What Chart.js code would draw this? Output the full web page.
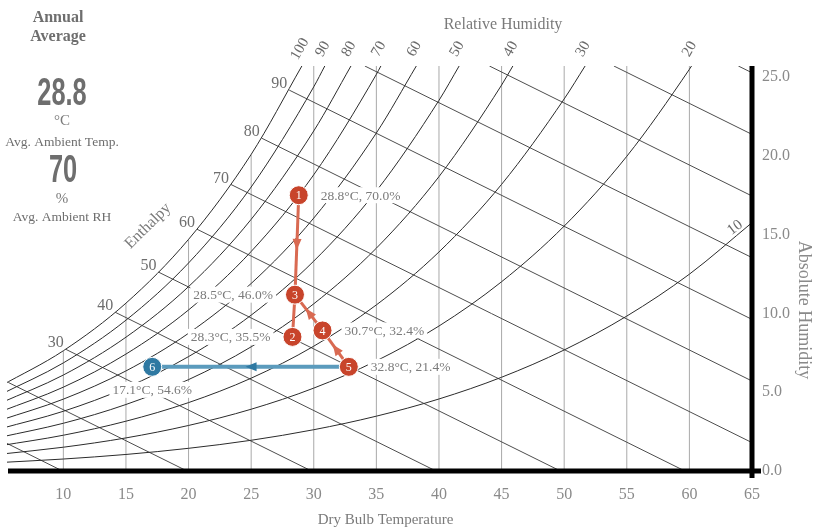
<!DOCTYPE html>
<html>
<head>
<meta charset="utf-8">
<title>Psychrometric chart</title>
<script src="https://cdn.jsdelivr.net/npm/chart.js@4.4.1/dist/chart.umd.min.js"></script>
<style>
  html, body { margin: 0; padding: 0; background: #fff; }
  canvas { display: block; }
</style>
</head>
<body>
<canvas id="psychro" width="815" height="530"></canvas>
<script>
// relative humidity curves: [dry bulb °C, absolute humidity g/kg]
const rh100 = [[5, 5.40], [10, 7.63], [15, 10.65], [20, 14.70], [25, 20.09], [29.05, 25.7]];
const rh90 = [[5, 4.86], [10, 6.86], [15, 9.57], [20, 13.20], [25, 18.02], [30, 24.38], [30.88, 25.7]];
const rh80 = [[5, 4.32], [10, 6.09], [15, 8.49], [20, 11.70], [25, 15.97], [30, 21.58], [32.97, 25.7]];
const rh70 = [[5, 3.77], [10, 5.32], [15, 7.42], [20, 10.22], [25, 13.93], [30, 18.80], [35, 25.17], [35.36, 25.7]];
const rh60 = [[5, 3.23], [10, 4.56], [15, 6.35], [20, 8.74], [25, 11.90], [30, 16.05], [35, 21.45], [38.19, 25.7]];
const rh50 = [[5, 2.69], [10, 3.79], [15, 5.28], [20, 7.26], [25, 9.89], [30, 13.32], [35, 17.77], [40, 23.52], [41.61, 25.7]];
const rh40 = [[5, 2.15], [10, 3.03], [15, 4.22], [20, 5.80], [25, 7.88], [30, 10.61], [35, 14.14], [40, 18.68], [45, 24.49], [45.90, 25.7]];
const rh30 = [[5, 1.61], [10, 2.27], [15, 3.16], [20, 4.34], [25, 5.89], [30, 7.92], [35, 10.54], [40, 13.90], [45, 18.19], [50, 23.61], [51.67, 25.7]];
const rh20 = [[5, 1.07], [10, 1.51], [15, 2.10], [20, 2.89], [25, 3.92], [30, 5.26], [35, 6.99], [40, 9.20], [45, 12.01], [50, 15.54], [55, 19.97], [60, 25.49], [60.17, 25.7]];
const rh10 = [[5, 0.54], [10, 0.76], [15, 1.05], [20, 1.44], [25, 1.95], [30, 2.62], [35, 3.48], [40, 4.57], [45, 5.95], [50, 7.68], [55, 9.83], [60, 12.49], [65, 15.76]];
const rhLevels = [100, 90, 80, 70, 60, 50, 40, 30, 20, 10];
const rhCurves = [rh100, rh90, rh80, rh70, rh60, rh50, rh40, rh30, rh20, rh10];

// enthalpy lines (kJ/kg), each from its start to its end point
const enthalpyLevels = [10, 20, 30, 40, 50, 60, 70, 80, 90, 100, 110, 120, 130];
const enthalpyStart = [[5.5, 1.75], [5.6, 5.62], [10.2, 7.72], [14.15, 10.07], [17.6, 12.62], [20.68, 15.34],
  [23.39, 18.18], [25.84, 21.12], [28.04, 24.17], [34.08, 25.7], [44.03, 25.7], [53.97, 25.7], [63.91, 25.7]];
const enthalpyEnd = [[9.94, 0], [19.88, 0], [29.82, 0], [39.76, 0], [49.70, 0], [59.64, 0],
  [65, 1.80], [65, 5.71], [65, 9.62], [65, 13.54], [65, 17.45], [65, 21.36], [65, 25.27]];
const labelledEnthalpy = [30, 40, 50, 60, 70, 80, 90];

const tempTicks = [10, 15, 20, 25, 30, 35, 40, 45, 50, 55, 60, 65];
const humidityTicks = [0, 5, 10, 15, 20, 25];
const gridTemps = [10, 15, 20, 25, 30, 35, 40, 45, 50, 55, 60];

// process states
const stateNames = ['1', '2', '3', '4', '5', '6'];
const stateTemps = [28.8, 28.3, 28.5, 30.7, 32.8, 17.1];
const stateRH = [70.0, 35.5, 46.0, 32.4, 21.4, 54.6];
const stateHumidity = [17.50, 8.51, 11.19, 8.92, 6.61, 6.61];
// [from, to, arrow]
const redPath = [[0, 2, true], [2, 1, false], [4, 3, true], [3, 2, true]];
const bluePath = [[4, 5, true]];

const avgTemp = 28.8;
const avgRH = 70;

const xMin = 5.5, xMax = 65, yMax = 25.7;
const RED = '#c8442b', RED_LINE = '#d96a52', BLUE = '#2f79a2', BLUE_LINE = '#5b9bbd';
const labelSide = ['right', 'left', 'left', 'right', 'right', 'below'];

const pts = arr => arr.map(([x, y]) => ({ x, y }));
const statePt = i => ({ x: stateTemps[i], y: stateHumidity[i] });

const datasets = [];
datasets.push({
  data: stateTemps.map((t, i) => statePt(i)),
  showLine: false,
  pointRadius: 9.5,
  pointBackgroundColor: stateNames.map((n, i) => i === 5 ? BLUE : RED),
  pointBorderColor: '#fff',
  pointBorderWidth: 1
});
redPath.forEach(([a, b]) => datasets.push({
  data: [statePt(a), statePt(b)], showLine: true, borderColor: RED_LINE, borderWidth: 3, pointRadius: 0
}));
bluePath.forEach(([a, b]) => datasets.push({
  data: [statePt(a), statePt(b)], showLine: true, borderColor: BLUE_LINE, borderWidth: 4, pointRadius: 0
}));
rhCurves.forEach(c => datasets.push({
  data: pts(c), showLine: true, borderColor: '#2b2b2b', borderWidth: 1, pointRadius: 0,
  cubicInterpolationMode: 'monotone'
}));
enthalpyLevels.forEach((h, i) => datasets.push({
  data: pts([enthalpyStart[i], enthalpyEnd[i]]), showLine: true, borderColor: '#4d4d4d', borderWidth: 1, pointRadius: 0
}));
gridTemps.forEach(t => {
  const sat = rh100.find(p => p[0] === t);
  datasets.push({
    data: [{ x: t, y: 0 }, { x: t, y: sat ? sat[1] : yMax }],
    showLine: true, borderColor: '#a9a9a9', borderWidth: 1, pointRadius: 0
  });
});

function arrowHead(ctx, x1, y1, x2, y2, color) {
  const mx = (x1 + x2) / 2, my = (y1 + y2) / 2;
  const ang = Math.atan2(y2 - y1, x2 - x1);
  ctx.save();
  ctx.translate(mx, my);
  ctx.rotate(ang);
  ctx.fillStyle = color;
  ctx.beginPath();
  ctx.moveTo(5, 0);
  ctx.lineTo(-6, -4.5);
  ctx.lineTo(-6, 4.5);
  ctx.closePath();
  ctx.fill();
  ctx.restore();
}

function text(ctx, str, x, y, font, color, align = 'center', base = 'middle', rot = 0) {
  ctx.save();
  ctx.translate(x, y);
  if (rot) ctx.rotate(rot);
  ctx.font = font;
  ctx.fillStyle = color;
  ctx.textAlign = align;
  ctx.textBaseline = base;
  ctx.fillText(str, 0, 0);
  ctx.restore();
}

function bigNumber(ctx, str, x, y) {
  ctx.save();
  ctx.translate(x, y);
  ctx.scale(0.65, 1);
  ctx.font = 'bold 39px "Liberation Sans", sans-serif';
  ctx.fillStyle = '#6e6e6e';
  ctx.textAlign = 'center';
  ctx.textBaseline = 'alphabetic';
  ctx.fillText(str, 0, 0);
  ctx.restore();
}

const SERIF = '"Liberation Serif", serif';

const decor = {
  id: 'decor',
  afterDatasetsDraw(chart) {
    const { ctx, chartArea: a, scales: { x, y } } = chart;
    const px = t => x.getPixelForValue(t), py = w => y.getPixelForValue(w);
    ctx.save();

    // state value labels on white boxes
    ctx.font = '13.5px ' + SERIF;
    stateNames.forEach((n, i) => {
      const label = `${stateTemps[i].toFixed(1)}°C, ${stateRH[i].toFixed(1)}%`;
      const w = ctx.measureText(label).width;
      const cx = px(stateTemps[i]), cy = py(stateHumidity[i]);
      let lx, ly = cy;
      if (labelSide[i] === 'right') lx = cx + 22;
      else if (labelSide[i] === 'left') lx = cx - 22 - w;
      else { lx = cx - w / 2; ly = cy + 23; }
      ctx.fillStyle = '#fff';
      ctx.fillRect(lx - 3, ly - 8, w + 6, 16);
      ctx.fillStyle = '#7b7b7b';
      ctx.textAlign = 'left';
      ctx.textBaseline = 'middle';
      ctx.fillText(label, lx, ly + 1);
    });

    // axis lines
    ctx.strokeStyle = '#000';
    ctx.lineWidth = 5;
    ctx.beginPath();
    ctx.moveTo(a.left + 1, a.bottom);
    ctx.lineTo(a.right + 9, a.bottom);
    ctx.stroke();
    ctx.beginPath();
    ctx.moveTo(a.right, a.top);
    ctx.lineTo(a.right, a.bottom + 7);
    ctx.stroke();

    // flow arrows
    redPath.forEach(([p, q, arrow]) => {
      if (arrow) arrowHead(ctx, px(stateTemps[p]), py(stateHumidity[p]), px(stateTemps[q]), py(stateHumidity[q]), RED_LINE);
    });
    bluePath.forEach(([p, q, arrow]) => {
      if (arrow) arrowHead(ctx, px(stateTemps[p]), py(stateHumidity[p]), px(stateTemps[q]), py(stateHumidity[q]), BLUE);
    });

    // state numbers
    stateNames.forEach((n, i) => {
      text(ctx, n, px(stateTemps[i]), py(stateHumidity[i]) + 1, '12px ' + SERIF, '#fff');
    });

    // relative humidity labels at the curve ends
    rhCurves.forEach((c, i) => {
      const last = c[c.length - 1];
      const ex = px(last[0]), ey = py(last[1]);
      if (last[1] >= yMax) text(ctx, String(rhLevels[i]), ex - 2, ey - 17, '15px ' + SERIF, '#6a6a6a', 'center', 'middle', -1.05);
      else text(ctx, String(rhLevels[i]), ex - 17, ey + 5, '15px ' + SERIF, '#6a6a6a', 'center', 'middle', -0.65);
    });

    // enthalpy labels next to the saturation curve
    enthalpyLevels.forEach((h, i) => {
      if (!labelledEnthalpy.includes(h)) return;
      text(ctx, String(h), px(enthalpyStart[i][0]) - 2, py(enthalpyStart[i][1]) - 2, '16px ' + SERIF, '#6e6e6e', 'right', 'alphabetic');
    });
    text(ctx, 'Enthalpy', 148, 226, '16px ' + SERIF, '#7a7a7a', 'center', 'middle', -0.78);

    // axis captions
    text(ctx, 'Relative Humidity', 503, 25, '16px ' + SERIF, '#7a7a7a');
    text(ctx, 'Dry Bulb Temperature', (a.left + a.right) / 2 + 6, 520, '15px ' + SERIF, '#7a7a7a');
    text(ctx, 'Absolute Humidity', 804, 310, '18px ' + SERIF, '#8a8a8a', 'center', 'middle', Math.PI / 2);

    // annual average panel
    text(ctx, 'Annual', 58, 18, 'bold 16px ' + SERIF, '#6e6e6e');
    text(ctx, 'Average', 58, 37, 'bold 16px ' + SERIF, '#6e6e6e');
    bigNumber(ctx, avgTemp.toFixed(1), 62, 105);
    text(ctx, '°C', 62, 121, '15px ' + SERIF, '#7a7a7a');
    text(ctx, 'Avg. Ambient Temp.', 62, 142, '13.5px ' + SERIF, '#6e6e6e');
    bigNumber(ctx, String(avgRH), 63, 182);
    text(ctx, '%', 62, 199, '15px ' + SERIF, '#7a7a7a');
    text(ctx, 'Avg. Ambient RH', 62, 217, '13.5px ' + SERIF, '#6e6e6e');

    ctx.restore();
  }
};

Chart.defaults.font.family = SERIF;

new Chart(document.getElementById('psychro'), {
  type: 'scatter',
  data: { datasets },
  options: {
    responsive: false,
    animation: false,
    events: [],
    layout: { autoPadding: false, padding: { left: 7, top: 66, right: 25, bottom: 0 } },
    plugins: { legend: { display: false }, tooltip: { enabled: false } },
    scales: {
      x: {
        type: 'linear', min: xMin, max: xMax,
        afterBuildTicks: s => { s.ticks = tempTicks.map(v => ({ value: v })); },
        afterFit: s => { s.height = 59; s.paddingLeft = 0; s.paddingRight = 0; },
        grid: { display: false, drawTicks: false },
        border: { display: false },
        ticks: { color: '#8a8a8a', font: { size: 16 }, padding: 14, maxRotation: 0, autoSkip: false }
      },
      y: {
        type: 'linear', position: 'right', min: 0, max: yMax,
        afterBuildTicks: s => { s.ticks = humidityTicks.map(v => ({ value: v })); },
        afterFit: s => { s.width = 38; s.paddingTop = 0; s.paddingBottom = 0; },
        grid: { display: false, drawTicks: false },
        border: { display: false },
        ticks: { color: '#8a8a8a', font: { size: 16 }, padding: 10, callback: v => v.toFixed(1) }
      }
    }
  },
  plugins: [decor]
});
</script>
</body>
</html>
